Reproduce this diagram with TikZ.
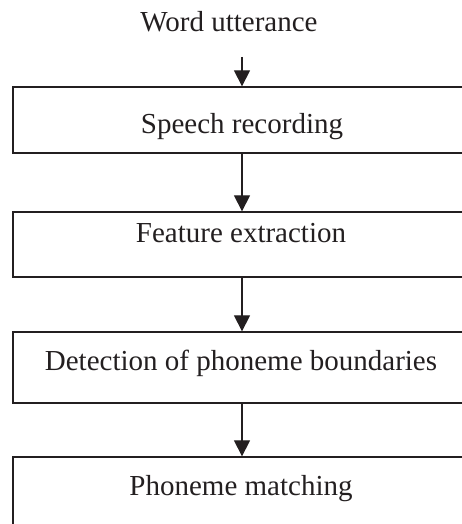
\documentclass[tikz,border=0pt]{standalone}
\usepackage{fontspec}
\setmainfont{Liberation Serif}
\usetikzlibrary{arrows.meta}
\definecolor{ink}{RGB}{35,31,32}
\begin{document}
\begin{tikzpicture}[x=1pt,y=-1pt,
  stage/.style={draw=ink, line width=1.3pt, rectangle, minimum width=458pt, inner sep=0pt},
  caption/.style={anchor=base, inner sep=0pt, font=\fontsize{29}{34}\selectfont, text=ink},
  flow/.style={draw=ink, line width=1.2pt, -{Triangle[length=16pt,width=16pt]}}]
\useasboundingbox (0,0) rectangle (462,524);
\clip (0,0) rectangle (462,524);

% process stages (the last one runs past the lower edge)
\node[stage, minimum height=66pt] (b1) at (242,120) {};
\node[stage, minimum height=65pt] (b2) at (242,244.5) {};
\node[stage, minimum height=71pt] (b3) at (242,367.5) {};
\node[stage, minimum height=83pt] (b4) at (242,498.5) {};

% labels
\node[caption] (src) at (229,32) {Word utterance};
\node[caption] (t1) at (242,133) {Speech recording};
\node[caption] (t2) at (241,242) {Feature extraction};
\node[caption] (t3) at (241,370) {Detection of phoneme boundaries};
\node[caption] (t4) at (241,495) {Phoneme matching};

% flow arrows
\coordinate (in) at (242,57);
\draw[flow] (in) -- (b1.north);
\draw[flow] (b1.south) -- (b2.north);
\draw[flow] (b2.south) -- (b3.north);
\draw[flow] (b3.south) -- (b4.north);
\end{tikzpicture}
\end{document}
